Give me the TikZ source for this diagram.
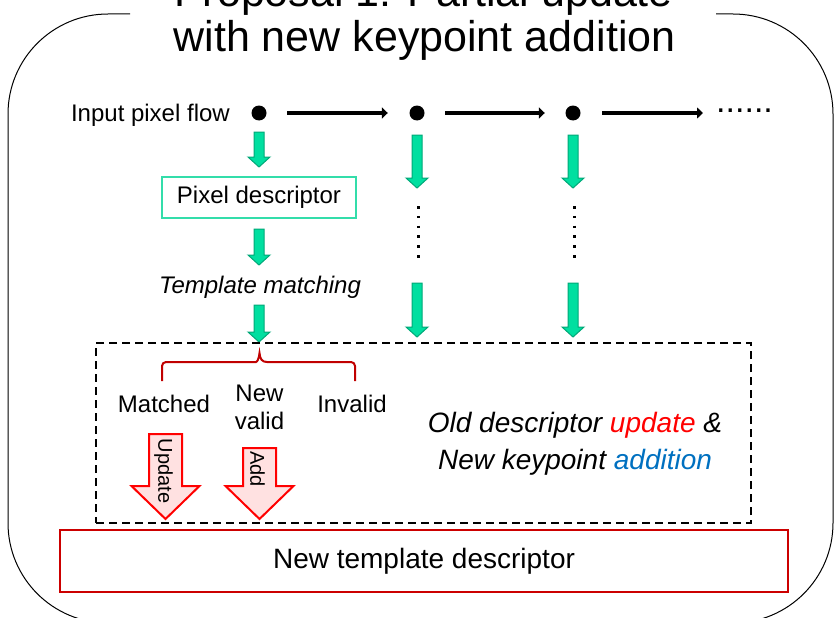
\documentclass[tikz,border=0pt]{standalone}
\usepackage{fontspec}
\setmainfont{Liberation Sans}
\usetikzlibrary{positioning,arrows.meta,calc}
\definecolor{flowgreen}{HTML}{00DFA0}
\definecolor{flowgreendk}{HTML}{00A878}
\definecolor{boxteal}{HTML}{33DDAA}
\definecolor{bracered}{HTML}{C00000}
\definecolor{boxred}{HTML}{CC0000}
\definecolor{addpink}{HTML}{FFE1E1}
\definecolor{addblue}{HTML}{0070C0}
\tikzset{
  fig/.style={x=1pt,y=-1pt},
  lbl/.style={font=\fontsize{24}{28}\selectfont,inner sep=0pt},
  big/.style={font=\fontsize{28}{37}\selectfont,inner sep=0pt},
  ttl/.style={font=\fontsize{43}{50}\selectfont,inner sep=0pt},
  pix/.style={circle,fill=black,minimum size=15pt,inner sep=0pt},
  flowline/.style={line width=4.5pt,-{Triangle[width=11pt,length=6pt]}},
  vdots/.style={line width=2.6pt,dash pattern=on 2.6pt off 7.2pt},
  tealbox/.style={lbl,draw=boxteal,line width=1.5pt,minimum width=194pt,minimum height=41pt},
  redbox/.style={big,draw=boxred,line width=2pt,minimum width=728pt,minimum height=62pt},
  dashbox/.style={draw,line width=1.8pt,dash pattern=on 8pt off 5pt,minimum width=655pt,minimum height=180pt},
  brace/.style={bracered,line width=2pt},
  pics/gdown/.style={code={
    \draw[draw=flowgreendk,fill=flowgreen,line width=1pt]
      (-5,0) -- (5,0) -- (5,#1-10) -- (11,#1-10) -- (0,#1) -- (-11,#1-10) -- (-5,#1-10) -- cycle;}},
  pics/rdown/.style={code={
    \draw[draw=red,fill=addpink,line width=2pt,line join=miter]
      (-16.5,0) -- (16.5,0) -- (16.5,#1) -- (34,#1) -- (0,#1+33) -- (-34,#1) -- (-16.5,#1) -- cycle;}},
}

\begin{document}
\begin{tikzpicture}[fig]
  \useasboundingbox (0,0) rectangle (835,618);
  % outer frame, open at the title
  \draw[line width=1pt,rounded corners=100pt] (130,14) -- (8,14) -- (8,623) -- (833,623) -- (833,14) -- (716,14);
  \node[ttl,anchor=base] (title1) at (423.5,7) {Proposal 1: Partial update};
  \node[ttl,anchor=base] (title2) at (424.5,52) {with new keypoint addition};

  % pixel flow
  \node[lbl,anchor=base east] (input) at (230,121) {Input pixel flow};
  \node[pix] (p1) at (259,113) {};
  \node[pix] (p2) at (417,113) {};
  \node[pix] (p3) at (573,113) {};
  \node[font=\fontsize{34}{40}\selectfont,inner sep=0pt,anchor=base west] (more) at (716,112.5) {......};
  \coordinate (flowend) at (703,113);
  \draw[flowline,shorten <=20.5pt,shorten >=21.5pt] (p1) -- (p2);
  \draw[flowline,shorten <=20.5pt,shorten >=20.5pt] (p2) -- (p3);
  \draw[flowline,shorten <=21.5pt] (p3) -- (flowend);

  % first pixel
  \pic at (259,132) {gdown=35};
  \node[tealbox] (pdesc) at (259,197.5) {Pixel descriptor};
  \pic at (259,229) {gdown=36};
  \node[lbl,anchor=base,font=\fontsize{24}{28}\selectfont\itshape] (tmatch) at (260,293) {Template matching};
  \pic at (259,305) {gdown=37};

  % other pixels
  \foreach \cx in {417,573} {
    \pic at (\cx,135) {gdown=53};
    \draw[vdots] (\cx+1.5,206) -- (\cx+1.5,258);
    \pic at (\cx,283) {gdown=54};
  }

  % matching result
  \node[dashbox] (region) at (423.5,433) {};
  \draw[brace] (162,381) [rounded corners=4pt] -- (162,362) -- (252,362) [sharp corners]
    .. controls (257,362) and (259,359) .. (259.5,353)
    .. controls (260,359) and (262,362) .. (267,362) [rounded corners=4pt] -- (355,362) -- (355,381);
  \node[lbl,anchor=base] (matched) at (164,412) {Matched};
  \node[lbl,align=center] (newvalid) at (259.5,407.5) {New\\valid};
  \node[lbl,anchor=base] (invalid) at (352,412) {Invalid};
  \pic at (165.5,434) {rdown=52};
  \node[lbl,font=\fontsize{20}{24}\selectfont,rotate=-90] (upd) at (163.5,471) {Update};
  \pic at (259.5,448) {rdown=38};
  \node[lbl,font=\fontsize{20}{24}\selectfont,rotate=-90] (add) at (257.5,469) {Add};
  \node[big,align=center,font=\fontsize{28}{37}\selectfont\itshape] (note) at (575,444)
    {Old descriptor \textcolor{red}{update} \&\\New keypoint \textcolor{addblue}{addition}};

  \node[redbox] (newtmpl) at (424,561) {New template descriptor};
\end{tikzpicture}
\end{document}
